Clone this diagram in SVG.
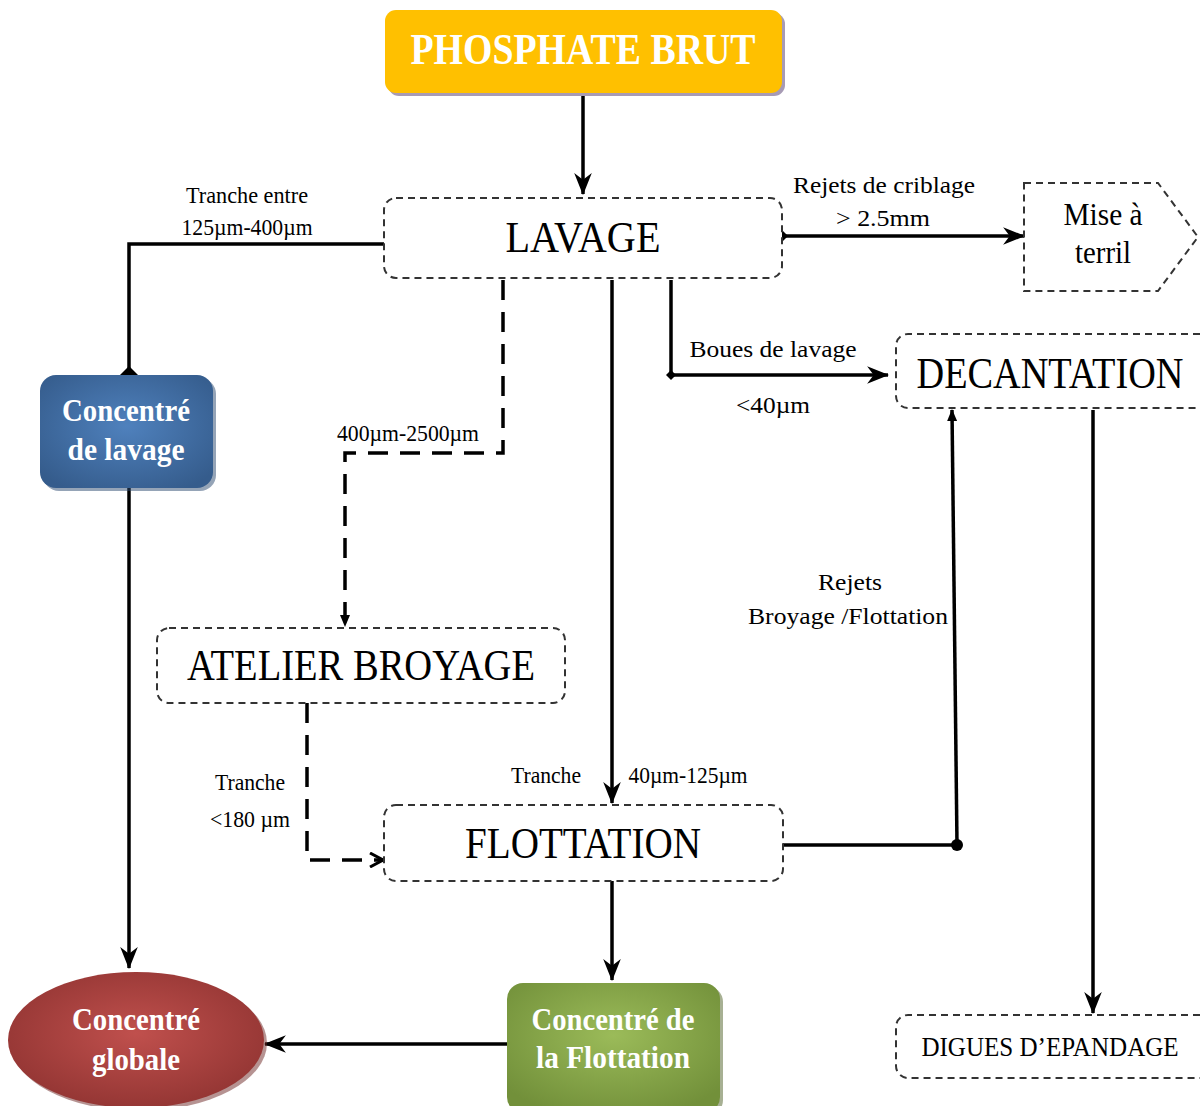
<svg xmlns="http://www.w3.org/2000/svg" width="1200" height="1106" viewBox="0 0 1200 1106">
<defs>
<marker id="arr" viewBox="0 0 20 16" refX="19" refY="8" markerWidth="22" markerHeight="18" markerUnits="userSpaceOnUse" orient="auto">
<path d="M0,0 L20,8 L0,16 L6,8 Z" fill="#000"/>
</marker>
<marker id="arrs" viewBox="0 0 12 10" refX="11" refY="5" markerWidth="12" markerHeight="10" markerUnits="userSpaceOnUse" orient="auto">
<path d="M0,0 L12,5 L0,10 Z" fill="#000"/>
</marker>
<marker id="arro" viewBox="0 0 16 16" refX="15" refY="8" markerWidth="16" markerHeight="16" markerUnits="userSpaceOnUse" orient="auto">
<path d="M2,1 L15,8 L2,15" fill="none" stroke="#000" stroke-width="3"/>
</marker>
<marker id="dia" viewBox="0 0 20 20" refX="10" refY="10" markerWidth="20" markerHeight="20" markerUnits="userSpaceOnUse">
<path d="M10,0 L20,10 L10,20 L0,10 Z" fill="#000"/>
</marker>
<marker id="dias" viewBox="0 0 10 10" refX="5" refY="5" markerWidth="10" markerHeight="10" markerUnits="userSpaceOnUse">
<path d="M5,0 L10,5 L5,10 L0,5 Z" fill="#000"/>
</marker>
<marker id="dot" viewBox="0 0 12 12" refX="6" refY="6" markerWidth="12" markerHeight="12" markerUnits="userSpaceOnUse">
<circle cx="6" cy="6" r="6" fill="#000"/>
</marker>
<radialGradient id="gBlue" cx="50%" cy="45%" r="65%">
<stop offset="0" stop-color="#4F81BD"/>
<stop offset="1" stop-color="#355C8C"/>
</radialGradient>
<radialGradient id="gRed" cx="50%" cy="45%" r="60%">
<stop offset="0" stop-color="#C0504D"/>
<stop offset="1" stop-color="#913432"/>
</radialGradient>
<radialGradient id="gGreen" cx="50%" cy="40%" r="65%">
<stop offset="0" stop-color="#9BBB59"/>
<stop offset="1" stop-color="#72903A"/>
</radialGradient>
</defs>
<style>
text{font-family:"Liberation Serif","Times New Roman",serif;fill:#000}
.box{fill:#fff;stroke:#333;stroke-width:2;stroke-dasharray:7,5}
.big{font-size:44px}
.lbl{font-size:24px}
.wt{fill:#fff;font-weight:bold;font-size:32px}
.ln{fill:none;stroke:#000;stroke-width:3.5}
.dl{fill:none;stroke:#000;stroke-width:3.5;stroke-dasharray:20,12}
</style>
<rect width="1200" height="1106" fill="#fff"/>

<g id="connectors">
<path class="ln" d="M583,93 V194" marker-end="url(#arr)"/>
<path class="ln" d="M384,244 H129 V376" marker-end="url(#dia)"/>
<path class="ln" d="M129,488 V968" marker-end="url(#arr)"/>
<path class="ln" d="M783,236 H1024" marker-start="url(#dias)" marker-end="url(#arr)"/>
<path class="ln" d="M671,280 V375"/>
<path class="ln" d="M671,375 H888" marker-start="url(#dias)" marker-end="url(#arr)"/>
<path class="dl" d="M503,280 V453 H345 V626" marker-end="url(#arrs)"/>
<path class="ln" d="M612,280 V803" marker-end="url(#arr)"/>
<path class="dl" d="M307,703 V860 H383" marker-end="url(#arro)"/>
<path class="ln" d="M612,881 V980" marker-end="url(#arr)"/>
<path class="ln" d="M507,1044 H265" marker-end="url(#arr)"/>
<path class="ln" d="M783,845 H957" marker-end="url(#dot)"/>
<path class="ln" d="M957,845 L952,410" marker-end="url(#arrs)"/>
<path class="ln" d="M1093,410 V1013" marker-end="url(#arr)"/>
</g>

<g id="phosphate-brut">
<rect x="388" y="13" width="397" height="83" rx="11" fill="#A79BB5"/>
<rect x="385" y="10" width="397" height="83" rx="11" fill="#FFC000"/>
<text x="583" y="64" text-anchor="middle" font-size="45" font-weight="bold" style="fill:#fff" textLength="345" lengthAdjust="spacingAndGlyphs">PHOSPHATE BRUT</text>
</g>

<g id="lavage">
<rect class="box" x="384" y="198" width="398" height="80" rx="12"/>
<text class="big" x="583" y="252" text-anchor="middle" textLength="155" lengthAdjust="spacingAndGlyphs">LAVAGE</text>
</g>

<g id="label-tranche-entre">
<text class="lbl" x="247" y="203" text-anchor="middle" textLength="122" lengthAdjust="spacingAndGlyphs">Tranche entre</text>
<text class="lbl" x="247" y="235" text-anchor="middle" textLength="131" lengthAdjust="spacingAndGlyphs">125µm-400µm</text>
</g>

<g id="label-rejets-criblage">
<text class="lbl" x="884" y="193" text-anchor="middle" textLength="182" lengthAdjust="spacingAndGlyphs">Rejets de criblage</text>
<text class="lbl" x="883" y="226" text-anchor="middle" textLength="94" lengthAdjust="spacingAndGlyphs">&gt; 2.5mm</text>
</g>

<g id="mise-a-terril">
<path class="box" d="M1024,183 H1158 L1198,237 L1158,291 H1024 Z"/>
<text x="1103" y="225" text-anchor="middle" font-size="32" textLength="79" lengthAdjust="spacingAndGlyphs">Mise à</text>
<text x="1103" y="263" text-anchor="middle" font-size="32" textLength="56" lengthAdjust="spacingAndGlyphs">terril</text>
</g>

<g id="label-boues">
<text class="lbl" x="773" y="357" text-anchor="middle" textLength="167" lengthAdjust="spacingAndGlyphs">Boues de lavage</text>
<text class="lbl" x="773" y="413" text-anchor="middle" textLength="74" lengthAdjust="spacingAndGlyphs">&lt;40µm</text>
</g>

<g id="decantation">
<path class="box" d="M1200,334 H908 A12,12 0 0 0 896,346 V396 A12,12 0 0 0 908,408 H1200"/>
<text class="big" x="0" y="0" text-anchor="middle" transform="translate(1050,388) scale(0.87,1)">DECANTATION</text>
</g>

<g id="concentre-lavage">
<rect x="43" y="378" width="173" height="113" rx="16" fill="#2B4A70" opacity="0.5"/>
<rect x="40" y="375" width="173" height="113" rx="16" fill="url(#gBlue)"/>
<text class="wt" x="126" y="421" text-anchor="middle" textLength="128" lengthAdjust="spacingAndGlyphs">Concentré</text>
<text class="wt" x="126" y="460" text-anchor="middle" textLength="117" lengthAdjust="spacingAndGlyphs">de lavage</text>
</g>

<g id="label-400">
<text class="lbl" x="408" y="441" text-anchor="middle" textLength="142" lengthAdjust="spacingAndGlyphs">400µm-2500µm</text>
</g>

<g id="label-rejets-broyage">
<text class="lbl" x="850" y="590" text-anchor="middle" textLength="64" lengthAdjust="spacingAndGlyphs">Rejets</text>
<text class="lbl" x="848" y="624" text-anchor="middle" textLength="200" lengthAdjust="spacingAndGlyphs">Broyage /Flottation</text>
</g>

<g id="atelier-broyage">
<rect class="box" x="157" y="628" width="408" height="75" rx="12"/>
<text class="big" x="361" y="680" text-anchor="middle" textLength="348" lengthAdjust="spacingAndGlyphs">ATELIER BROYAGE</text>
</g>

<g id="label-tranche-180">
<text class="lbl" x="250" y="790" text-anchor="middle" textLength="70" lengthAdjust="spacingAndGlyphs">Tranche</text>
<text class="lbl" x="250" y="827" text-anchor="middle" textLength="80" lengthAdjust="spacingAndGlyphs">&lt;180 µm</text>
</g>

<g id="label-tranche-40">
<text class="lbl" x="546" y="783" text-anchor="middle" textLength="70" lengthAdjust="spacingAndGlyphs">Tranche</text>
<text class="lbl" x="688" y="783" text-anchor="middle" textLength="119" lengthAdjust="spacingAndGlyphs">40µm-125µm</text>
</g>

<g id="flottation">
<rect class="box" x="384" y="805" width="399" height="76" rx="12"/>
<text class="big" x="583" y="858" text-anchor="middle" textLength="236" lengthAdjust="spacingAndGlyphs">FLOTTATION</text>
</g>

<g id="concentre-globale">
<ellipse cx="139" cy="1043" rx="128" ry="68" fill="#6E2725" opacity="0.5"/>
<ellipse cx="136" cy="1040" rx="128" ry="68" fill="url(#gRed)"/>
<text class="wt" x="136" y="1030" text-anchor="middle" textLength="128" lengthAdjust="spacingAndGlyphs">Concentré</text>
<text class="wt" x="136" y="1070" text-anchor="middle" textLength="88" lengthAdjust="spacingAndGlyphs">globale</text>
</g>

<g id="concentre-flottation">
<rect x="510" y="986" width="213" height="130" rx="16" fill="#4F6228" opacity="0.5"/>
<rect x="507" y="983" width="213" height="130" rx="16" fill="url(#gGreen)"/>
<text class="wt" x="613" y="1030" text-anchor="middle" textLength="163" lengthAdjust="spacingAndGlyphs">Concentré de</text>
<text class="wt" x="613" y="1068" text-anchor="middle" textLength="154" lengthAdjust="spacingAndGlyphs">la Flottation</text>
</g>

<g id="digues-epandage">
<path class="box" d="M1200,1015 H908 A12,12 0 0 0 896,1027 V1066 A12,12 0 0 0 908,1078 H1200"/>
<text x="0" y="0" text-anchor="middle" font-size="28" transform="translate(1050,1056) scale(0.895,1)">DIGUES D’EPANDAGE</text>
</g>
</svg>
